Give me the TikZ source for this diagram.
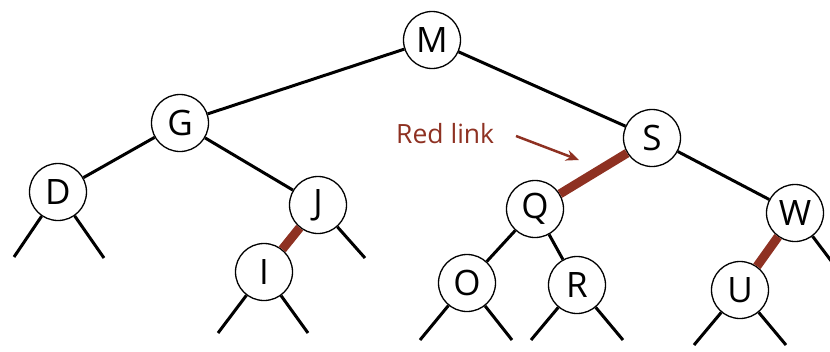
\documentclass[tikz,border=0pt]{standalone}
\usepackage{fontspec}
\setmainfont{Open Sans}
\usetikzlibrary{arrows.meta}
\definecolor{redlink}{HTML}{8E3122}
\tikzset{
  key/.style={circle,draw,line width=1.3pt,fill=white,minimum size=57pt,inner sep=0pt,font=\fontsize{35}{35}\selectfont},
  edge/.style={line width=3pt},
  redge/.style={line width=9pt,draw=redlink},
}
\begin{document}
\begin{tikzpicture}[x=1pt,y=-1pt]
\useasboundingbox (0,0) rectangle (830,351);
\node[key] (M) at (432,40) {M};
\node[key] (G) at (180,123) {G};
\node[key] (S) at (652,138) {S};
\node[key] (D) at (58,192) {D};
\node[key] (J) at (318,205) {J};
\node[key] (Q) at (535,209) {Q};
\node[key] (W) at (795,213) {W};
\node[key] (I) at (264,272) {I};
\node[key] (O) at (467,283) {O};
\node[key] (R) at (577,285) {R};
\node[key] (U) at (740,290) {U};
% stub ends
\coordinate (Dl) at (14,257);
\coordinate (Dr) at (104,258);
\coordinate (Jr) at (365,258);
\coordinate (Il) at (218,333);
\coordinate (Ir) at (308,333);
\coordinate (Ol) at (420,340);
\coordinate (Or) at (512,340);
\coordinate (Rl) at (531,340);
\coordinate (Rr) at (623,340);
\coordinate (Ul) at (694,345);
\coordinate (Ur) at (786,345);
\coordinate (Wr) at (832,262);
% black links
\draw[edge] (M) -- (G);
\draw[edge] (M) -- (S);
\draw[edge] (G) -- (D);
\draw[edge] (G) -- (J);
\draw[edge] (S) -- (W);
\draw[edge] (Q) -- (O);
\draw[edge] (Q) -- (R);
% red links
\draw[redge] (J) -- (I);
\draw[redge] (S) -- (Q);
\draw[redge] (W) -- (U);
% null links
\foreach \n/\e in {D/Dl,D/Dr,J/Jr,I/Il,I/Ir,O/Ol,O/Or,R/Rl,R/Rr,U/Ul,U/Ur,W/Wr}
  \draw[edge] (\n) -- (\e);
% label
\node[text=redlink,font=\fontsize{26.5}{26.5}\selectfont,anchor=base west,inner sep=0pt] (lab) at (396,143) {Red link};
\coordinate (arrst) at (516,136);
\coordinate (arrend) at (579,160);
\draw[redlink,line width=2.5pt,-{Stealth[length=13pt,width=11pt]}] (arrst) -- (arrend);
\end{tikzpicture}
\end{document}
